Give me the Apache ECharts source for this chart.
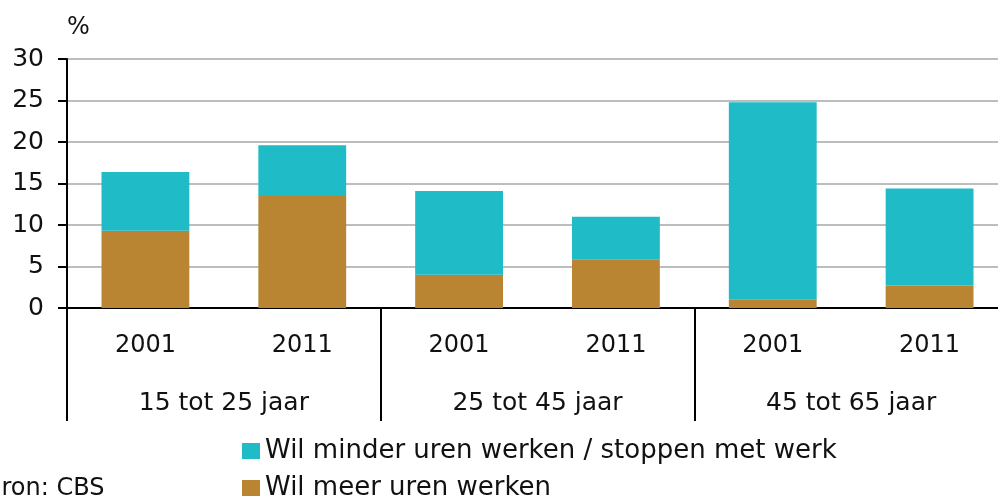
<!DOCTYPE html>
<html>
<head>
<meta charset="utf-8">
<script src="https://cdn.jsdelivr.net/npm/echarts@6/dist/echarts.min.js"></script>
<style>
  html, body { margin: 0; padding: 0; background: #fff; overflow: hidden; }
  #chart { width: 1012px; height: 497px; }
</style>
</head>
<body>
<div id="chart"></div>
<script>
var years = ['2001', '2011', '2001', '2011', '2001', '2011'];
var ageGroups = ['15 tot 25 jaar', '25 tot 45 jaar', '45 tot 65 jaar'];
var meerUren = [9.3, 13.5, 4.0, 5.8, 1.0, 2.7];
var minderUren = [7.1, 6.1, 10.1, 5.2, 23.8, 11.7];
var seriesNames = ['Wil minder uren werken / stoppen met werk', 'Wil meer uren werken'];

// chart is a bit wider than the window: the plot runs past the right edge
var fontFam = 'DejaVu Sans';
var chart = echarts.init(document.getElementById('chart'));

chart.setOption({
  animation: false,
  textStyle: { fontFamily: fontFam },
  grid: { left: 67, top: 59, width: 941, height: 249, containLabel: false },
  legend: {
    orient: 'vertical',
    left: 242,
    top: 438,
    height: 120,
    padding: 0,
    icon: 'rect',
    itemWidth: 18,
    itemHeight: 16,
    itemGap: 11,
    data: seriesNames,
    textStyle: { fontSize: 26, color: '#111', fontFamily: fontFam }
  },
  graphic: [{
    type: 'text',
    left: -15,
    top: 477,
    style: { text: 'Bron: CBS', fontSize: 24, fill: '#111', fontFamily: fontFam }
  }],
  xAxis: [{
    type: 'category',
    data: years,
    position: 'bottom',
    axisLine: { lineStyle: { color: '#000', width: 2 } },
    axisTick: { show: false },
    axisLabel: { fontSize: 24, color: '#111', margin: 26 }
  }, {
    type: 'category',
    data: ageGroups,
    position: 'bottom',
    axisLine: { show: false },
    axisTick: { show: true, length: 113, lineStyle: { color: '#000', width: 2 } },
    axisLabel: { fontSize: 25, color: '#111', margin: 83 }
  }],
  yAxis: {
    type: 'value',
    min: 0,
    max: 30,
    interval: 5,
    name: '%',
    nameLocation: 'end',
    nameGap: 31,
    nameTextStyle: { fontSize: 24, color: '#111', align: 'left', verticalAlign: 'middle' },
    axisLine: { show: true, lineStyle: { color: '#000', width: 2 } },
    axisTick: { show: true, length: 9, lineStyle: { color: '#000', width: 2 } },
    axisLabel: { fontSize: 25, color: '#111', margin: 23 },
    splitLine: { lineStyle: { color: '#bdbdbd', width: 2 } }
  },
  series: [{
    name: seriesNames[1],
    type: 'bar',
    stack: 'total',
    barWidth: '56%',
    itemStyle: { color: '#b98532' },
    data: meerUren
  }, {
    name: seriesNames[0],
    type: 'bar',
    stack: 'total',
    barWidth: '56%',
    itemStyle: { color: '#1fbbc6' },
    data: minderUren
  }]
});
</script>
</body>
</html>
